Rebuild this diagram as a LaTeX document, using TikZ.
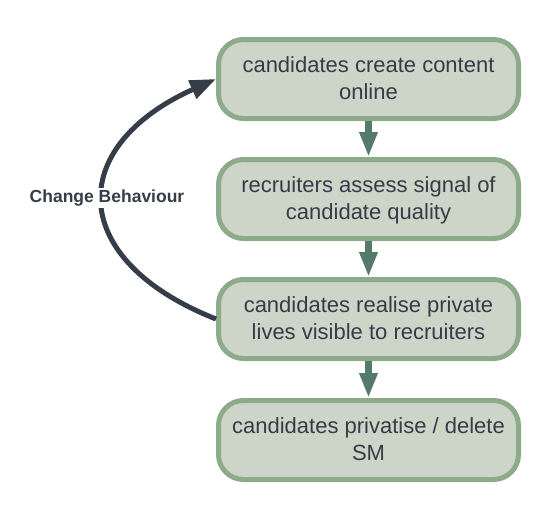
\documentclass[tikz,border=0pt]{standalone}
\usepackage{fontspec}
\setmainfont{Liberation Sans}
\usetikzlibrary{arrows.meta}
\definecolor{boxfill}{HTML}{CDD5C8}
\definecolor{boxline}{HTML}{8DAA8A}
\definecolor{txt}{HTML}{333D47}
\definecolor{flow}{HTML}{557A6C}
\definecolor{loopc}{HTML}{353D48}
\begin{document}
\begin{tikzpicture}[x=1pt,y=-1pt,
  stepbox/.style={rectangle, rounded corners=25pt, draw=boxline, fill=boxfill,
    line width=5pt, minimum width=300pt, minimum height=79pt, align=center,
    text=txt, font=\fontsize{22}{27}\selectfont, inner sep=0pt,
    text height=44pt, text depth=4pt},
  flowarrow/.style={draw=flow, line width=6.5pt, -{Triangle[width=17pt,length=25pt]}},
  looparrow/.style={draw=loopc, line width=5pt, -{Triangle[width=19pt,length=26pt,fill=loopc]}},
  looplabel/.style={fill=white, text=loopc, font=\bfseries\fontsize{17.5}{20}\selectfont, inner sep=2pt}]
\useasboundingbox (0,0) rectangle (558,522);
\node[stepbox] (a) at (368.5,79) {candidates create content\\online};
\node[stepbox] (b) at (368.5,199) {recruiters assess signal of\\candidate quality};
\node[stepbox] (c) at (368.5,319) {candidates realise private\\lives visible to recruiters};
\node[stepbox] (d) at (368.5,440) {candidates privatise / delete\\SM};
\draw[flowarrow] (a.south) -- (b.north);
\draw[flowarrow] (b.south) -- (c.north);
\draw[flowarrow] (c.south) -- (d.north);
\draw[looparrow] (c.west) .. controls (67,260) and (65,147) .. (a.west);
\node[looplabel] (lbl) at (107,198) {Change Behaviour};
\end{tikzpicture}
\end{document}
